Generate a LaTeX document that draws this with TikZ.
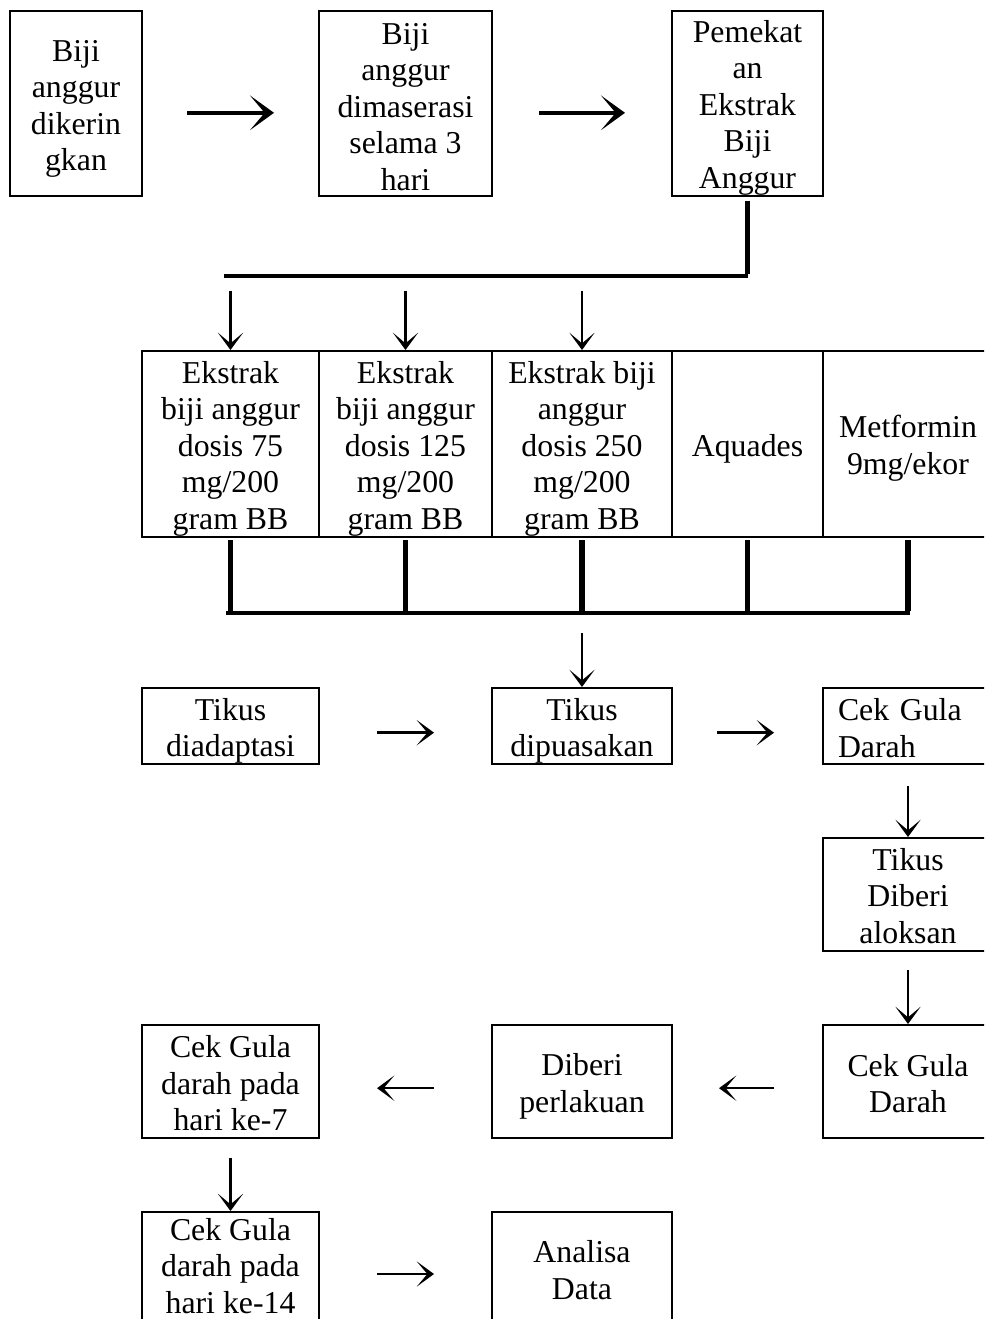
\documentclass[tikz,border=0pt]{standalone}
\usepackage{fontspec}
\setmainfont{Liberation Serif}
\usetikzlibrary{arrows.meta}
\newcommand\boxfont{\fontsize{23.85pt}{27.4pt}\selectfont}
\begin{document}
\begin{tikzpicture}[x=0.75pt,y=-0.75pt,
  box/.style={draw, line width=1.5pt, inner sep=0pt},
  txt/.style={inner sep=0pt, align=center, font=\boxfont},
  wh/.style 2 args={minimum width=#1*0.75pt, minimum height=#2*0.75pt},
  bigarrow/.style={line width=3pt, -{Stealth[length=18pt,width=26pt,inset=11pt]}},
  arr/.style={line width=1.8pt, -{Stealth[length=13pt,width=19pt,inset=8pt]}},
  barv/.style={line width=4.2pt},
  barh/.style={line width=3pt}]
\useasboundingbox (0,0) rectangle (984,1319);
\clip (0,0) rectangle (984,1319);
% top row
\node[box, wh={132}{185}] (b1) at (76,103.5) {};
\node[box, wh={173}{185}] (b2) at (405.5,103.5) {};
\node[box, wh={151}{185}] (b3) at (747.5,103.5) {};
\node[txt] (b1t) at ([yshift=-4pt]b1.center) {Biji\\anggur\\dikerin\\gkan};
\node[txt] (b2t) at ([yshift=-2.5pt]b2.center) {Biji\\anggur\\dimaserasi\\selama 3\\hari};
\node[txt] (b3t) at ([yshift=-3pt]b3.center) {Pemekat\\an\\Ekstrak\\Biji\\Anggur};
\draw[bigarrow, shorten <=33pt, shorten >=33pt] ([yshift=-7pt]b1.east) -- ([yshift=-7pt]b2.west);
\draw[bigarrow, shorten <=34.5pt, shorten >=34.5pt] ([yshift=-7pt]b2.east) -- ([yshift=-7pt]b3.west);
% bus 1
\coordinate (h1L) at (224,276);
\coordinate (h1R) at (748,276);
\draw[barv, shorten <=3pt] (b3.south) -- ([yshift=1.5pt]b3.south |- h1R);
\draw[barh] (h1L) -- (h1R);
% row 2
\node[box, wh={177}{186}] (c1) at (230.5,444) {};
\node[box, wh={173}{186}] (c2) at (405.5,444) {};
\node[box, wh={180}{186}] (c3) at (582,444) {};
\node[box, wh={151}{186}] (c4) at (747.5,444) {};
\node[box, wh={170}{186}] (c5) at (908,444) {};
\node[txt] (c1t) at ([yshift=-3.5pt]c1.center) {Ekstrak\\biji anggur\\dosis 75\\mg/200\\gram BB};
\node[txt] (c2t) at ([yshift=-3.5pt]c2.center) {Ekstrak\\biji anggur\\dosis 125\\mg/200\\gram BB};
\node[txt] (c3t) at ([yshift=-3.5pt]c3.center) {Ekstrak biji\\anggur\\dosis 250\\mg/200\\gram BB};
\node[txt] (c4t) at ([yshift=-3.5pt]c4.center) {Aquades};
\node[txt] (c5t) at ([yshift=-3pt]c5.center) {Metformin\\9mg/ekor};
\foreach \c in {c1,c2,c3}
  \draw[arr, shorten <=11pt] (\c.north |- h1L) -- (\c.north);
% bus 2
\coordinate (h2L) at (226,613);
\coordinate (h2R) at (910,613);
\foreach \c in {c1,c2,c3,c4,c5}
  \draw[barv, shorten <=1.5pt] (\c.south) -- ([yshift=1.5pt]\c.south |- h2L);
\draw[barh] (h2L) -- (h2R);
% row 3
\node[box, wh={177}{76}] (d1) at (230.5,726) {};
\node[box, wh={180}{76}] (d2) at (582,726) {};
\node[box, wh={170}{76}] (d3) at (908,726) {};
\node[txt] (d1t) at ([yshift=-3.5pt]d1.center) {Tikus\\diadaptasi};
\node[txt] (d2t) at ([yshift=-3.5pt]d2.center) {Tikus\\dipuasakan};
\node[txt, align=left, text width=105pt] (d3t) at ([yshift=-1.5pt]d3.center) {Cek Gula\\Darah};
\draw[arr, shorten <=15pt] (d2.north |- h2L) -- (d2.north);
\draw[arr, shorten <=42.75pt, shorten >=42.75pt] ([yshift=-5pt]d1.east) -- ([yshift=-5pt]d2.west);
\draw[arr, shorten <=33pt, shorten >=36pt] ([yshift=-5pt]d2.east) -- ([yshift=-5pt]d3.west);
% right column
\node[box, wh={170}{113}] (e1) at (908,894.5) {};
\node[txt] (e1t) at ([yshift=-1.2pt]e1.center) {Tikus\\Diberi\\aloksan};
\draw[arr, shorten <=15.75pt] (d3.south) -- (e1.north);
% row 4
\node[box, wh={170}{113}] (f3) at (908,1081.5) {};
\node[box, wh={180}{113}] (f2) at (582,1081.5) {};
\node[box, wh={177}{113}] (f1) at (230.5,1081.5) {};
\node[txt] (f3t) at ([yshift=-1.5pt]f3.center) {Cek Gula\\Darah};
\node[txt] (f2t) at ([yshift=-3.5pt]f2.center) {Diberi\\perlakuan};
\node[txt] (f1t) at ([yshift=-1.5pt]f1.center) {Cek Gula\\darah pada\\hari ke-7};
\draw[arr, shorten <=13.5pt] (e1.south) -- (f3.north);
\draw[arr, shorten <=36pt, shorten >=34.5pt] ([yshift=-5pt]f3.west) -- ([yshift=-5pt]f2.east);
\draw[arr, shorten <=42.75pt, shorten >=42.75pt] ([yshift=-5pt]f2.west) -- ([yshift=-5pt]f1.east);
% row 5
\node[box, wh={177}{124}] (g1) at (230.5,1274) {};
\node[box, wh={180}{124}] (g2) at (582,1274) {};
\node[txt] (g1t) at ([yshift=6pt]g1.center) {Cek Gula\\darah pada\\hari ke-14};
\node[txt] (g2t) at ([yshift=3pt]g2.center) {Analisa\\Data};
\draw[arr, shorten <=14pt] (f1.south) -- (g1.north);
\draw[arr, shorten <=42.75pt, shorten >=42.75pt] (g1.east) -- (g2.west);
\end{tikzpicture}
\end{document}
